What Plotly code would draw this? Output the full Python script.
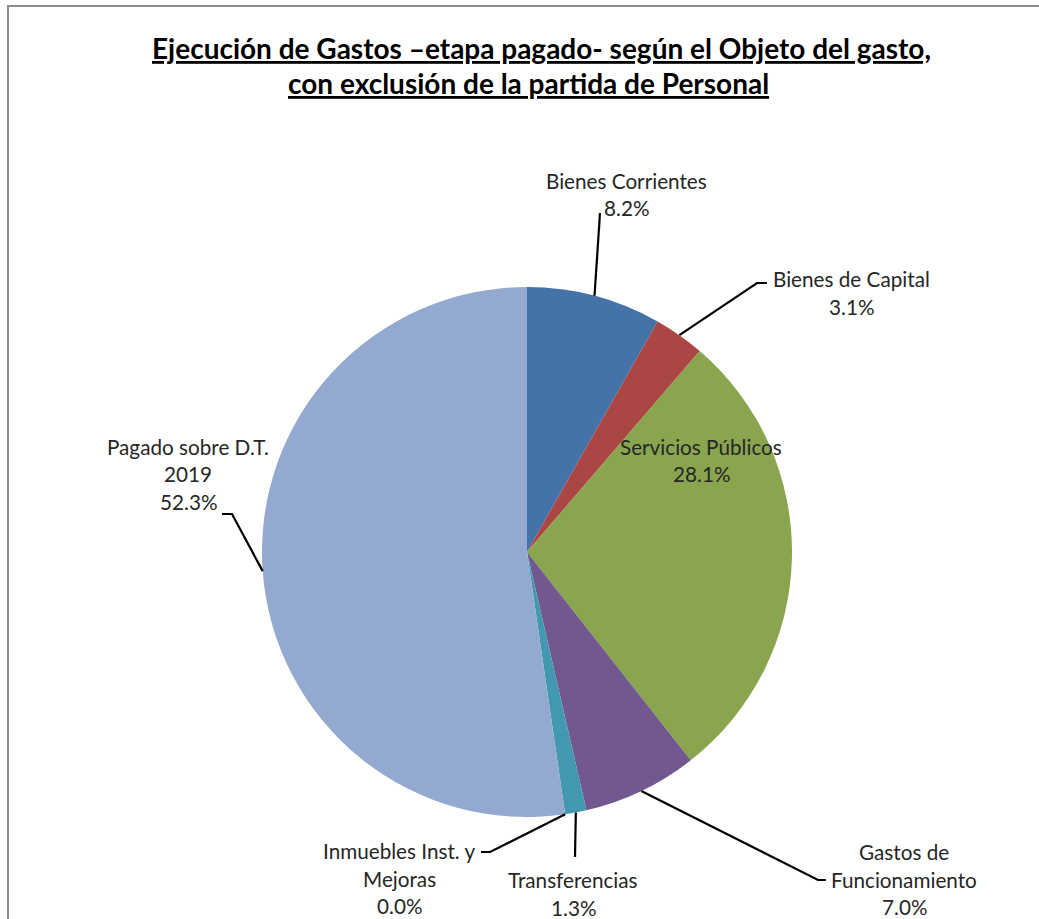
import math
import plotly.graph_objects as go

# ---- data ----
categories = ["Bienes Corrientes", "Bienes de Capital", "Servicios Públicos",
              "Gastos de Funcionamiento", "Transferencias",
              "Inmuebles Inst. y Mejoras", "Pagado sobre D.T. 2019"]
values = [8.2, 3.1, 28.1, 7.0, 1.3, 0.0, 52.3]
label_lines = [["Bienes Corrientes", "8.2%"],
               ["Bienes de Capital", "3.1%"],
               ["Servicios Públicos", "28.1%"],
               ["Gastos de", "Funcionamiento", "7.0%"],
               ["Transferencias", "1.3%"],
               ["Inmuebles Inst. y", "Mejoras", "0.0%"],
               ["Pagado sobre D.T.", "2019", "52.3%"]]
colors = ["#4572A7", "#AA4643", "#89A54E", "#71588F", "#4198AF", "#4BACC6", "#93A9CF"]

# ---- layout constants (pixels) ----
W, H = 1039, 919
CX, CY, R = 527, 552, 265
FONT = "Lato"
LINE_H = 27.5

def px(x):
    return x / W

def py(y):
    return 1 - y / H

# label placement: (text center x, first-line y, elbow point, tick end point) ; None = inside
label_pos = [
    (626, 181, (600, 213), None),
    (851, 279, (757, 283), (767, 283)),
    (701, 447, None, None),
    (904, 852, (818, 880), (826, 880)),
    (573, 880, (575, 857), None),
    (399, 851, (490, 852), (481, 852)),
    (188, 447, (232, 514), (222, 514)),
]

fig = go.Figure(go.Pie(
    labels=categories, values=values, sort=False, direction="clockwise",
    rotation=0, marker=dict(colors=colors, line=dict(width=0)),
    textinfo="none", hoverinfo="label+percent", showlegend=False,
    domain=dict(x=[px(CX - R), px(CX + R)], y=[py(CY + R), py(CY - R)]),
))

total = sum(values)
cum = 0.0
shapes = []
annotations = []
for i, v in enumerate(values):
    start = cum
    cum += v
    mid = (start + cum) / 2 / total * 2 * math.pi
    ax = CX + R * math.sin(mid)
    ay = CY - R * math.cos(mid)
    tx, ty, elbow, tick = label_pos[i]
    if elbow is not None:
        pts = [(ax, ay), elbow] + ([tick] if tick else [])
        path = "M " + " L ".join(f"{px(x)},{py(y)}" for x, y in pts)
        shapes.append(dict(type="path", xref="paper", yref="paper", path=path,
                           line=dict(color="#000000", width=2.2)))
    for k, t in enumerate(label_lines[i]):
        annotations.append(dict(x=px(tx), y=py(ty + k * LINE_H), xref="paper", yref="paper",
                                text=t, showarrow=False, xanchor="center", yanchor="middle",
                                font=dict(family=FONT, size=20.7, color="#262626")))

# title
annotations.append(dict(x=px(541), y=py(48), xref="paper", yref="paper",
                        text="<b><u>Ejecución de Gastos –etapa pagado- según el Objeto del gasto,</u></b>",
                        showarrow=False, xanchor="center", yanchor="middle",
                        font=dict(family=FONT, size=28, color="#000000")))
annotations.append(dict(x=px(528), y=py(83), xref="paper", yref="paper",
                        text="<b><u>con exclusión de la partida de Personal</u></b>",
                        showarrow=False, xanchor="center", yanchor="middle",
                        font=dict(family=FONT, size=28, color="#000000")))

# outer frame
shapes.append(dict(type="rect", xref="paper", yref="paper",
                   x0=px(8), y0=py(925), x1=px(1045), y1=py(6),
                   line=dict(color="#8c8c8c", width=2), layer="below"))

fig.update_layout(width=W, height=H, margin=dict(l=0, r=0, t=0, b=0),
                  paper_bgcolor="white", plot_bgcolor="white",
                  shapes=shapes, annotations=annotations)

fig.write_html("out.html")
